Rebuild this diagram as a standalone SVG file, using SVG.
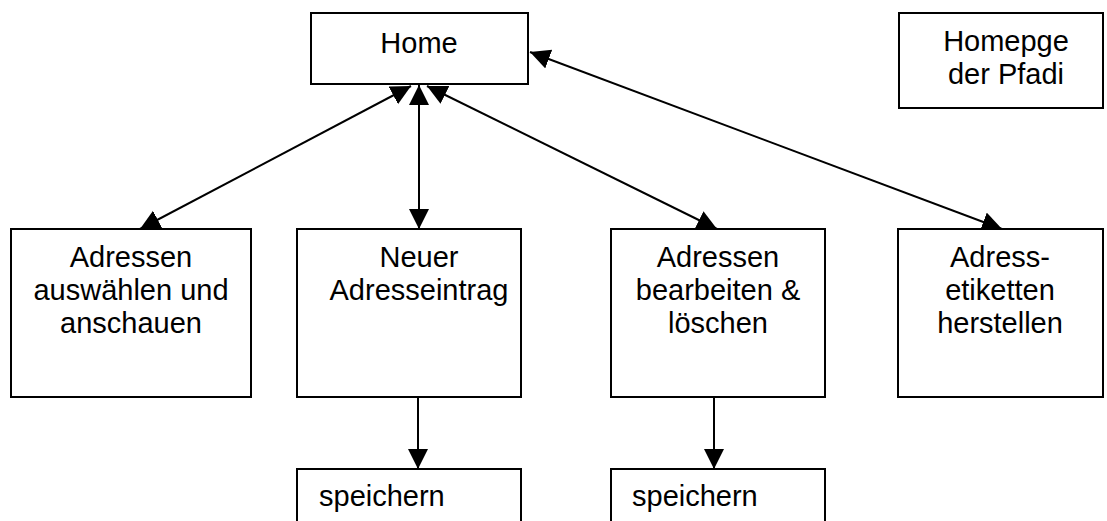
<svg xmlns="http://www.w3.org/2000/svg" width="1107" height="521" viewBox="0 0 1107 521">
<style>
.box{fill:#fff;stroke:#000;stroke-width:2}
.t{font-family:"Liberation Sans",Arial,sans-serif;font-size:29px;fill:#000;text-anchor:middle}
.tl{font-family:"Liberation Sans",Arial,sans-serif;font-size:29px;fill:#000}
.c{stroke:#000;stroke-width:2;fill:none}
</style>
<defs>
<marker id="ah" markerUnits="userSpaceOnUse" markerWidth="22" markerHeight="22" refX="20" refY="10" orient="auto-start-reverse" viewBox="0 0 22 22">
<path d="M0,0 L20,10 L0,20 z" fill="#000"/>
</marker>
</defs>
<rect width="1107" height="521" fill="#fff"/>
<g id="connectors">
<line class="c" x1="140" y1="229" x2="411" y2="86" marker-start="url(#ah)" marker-end="url(#ah)"/>
<line class="c" x1="419" y1="229" x2="419" y2="85" marker-start="url(#ah)" marker-end="url(#ah)"/>
<line class="c" x1="717" y1="229" x2="427" y2="86" marker-start="url(#ah)" marker-end="url(#ah)"/>
<line class="c" x1="1002" y1="229" x2="530" y2="52" marker-start="url(#ah)" marker-end="url(#ah)"/>
<line class="c" x1="418" y1="397" x2="418" y2="469" marker-end="url(#ah)"/>
<line class="c" x1="714" y1="397" x2="714" y2="469" marker-end="url(#ah)"/>
</g>
<g id="home">
<rect class="box" x="311" y="13" width="217" height="71"/>
<text class="t" x="419" y="53">Home</text>
</g>
<g id="homepage">
<rect class="box" x="899" y="13" width="204" height="95"/>
<text class="t" x="1006" y="51">Homepge</text>
<text class="t" x="1006" y="84">der Pfadi</text>
</g>
<g id="auswaehlen">
<rect class="box" x="11" y="229" width="240" height="168"/>
<text class="t" x="131" y="267">Adressen</text>
<text class="t" x="131" y="300">auswählen und</text>
<text class="t" x="131" y="333">anschauen</text>
</g>
<g id="neuer">
<rect class="box" x="297" y="229" width="224" height="168"/>
<text class="t" x="419" y="267">Neuer</text>
<text class="t" x="419" y="300">Adresseintrag</text>
</g>
<g id="bearbeiten">
<rect class="box" x="611" y="229" width="214" height="168"/>
<text class="t" x="718" y="267">Adressen</text>
<text class="t" x="718" y="300">bearbeiten &amp;</text>
<text class="t" x="718" y="333">löschen</text>
</g>
<g id="etiketten">
<rect class="box" x="898" y="229" width="205" height="168"/>
<text class="t" x="1000" y="267">Adress-</text>
<text class="t" x="1000" y="300">etiketten</text>
<text class="t" x="1000" y="333">herstellen</text>
</g>
<g id="speichern1">
<rect class="box" x="297" y="469" width="224" height="70"/>
<text class="tl" x="319" y="506">speichern</text>
</g>
<g id="speichern2">
<rect class="box" x="611" y="469" width="214" height="70"/>
<text class="tl" x="632" y="506">speichern</text>
</g>
</svg>
